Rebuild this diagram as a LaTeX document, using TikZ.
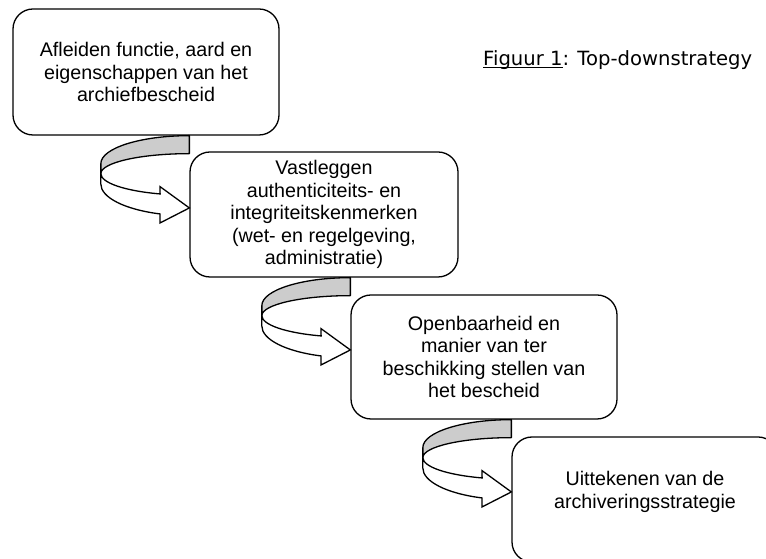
\documentclass[tikz,border=0pt]{standalone}
\usepackage{fontspec}
\setmainfont{Liberation Sans}
\newfontfamily\capfont{DejaVu Sans}
\usepackage{tikz}
\usetikzlibrary{positioning}
\usetikzlibrary{calc}
\newcommand\capline[1]{\setbox0\hbox{#1}\rlap{\rule[-2.6pt]{\wd0}{1.1pt}}\box0}

\begin{document}
\begin{tikzpicture}[x=1pt,y=1pt,
            stepbox/.style={draw,line width=1.3pt,rounded corners=20pt,inner sep=0pt,align=center,
                font=\fontsize{19.7}{22.5}\selectfont},
            backband/.style={draw,line width=1.3pt,fill=gray!40,line join=round},
            frontband/.style={draw,line width=1.3pt,fill=white,line join=miter}]
            \useasboundingbox (0,0) rectangle (766,559);
            \clip (0,0) rectangle (766,559);
            \node[stepbox,minimum width=266pt,minimum height=126pt] (b1) at (146,487)
                {Afleiden functie, aard en\\eigenschappen van het\\archiefbescheid};
            \node[stepbox,minimum width=268pt,minimum height=125pt] (b2) at (324,344.5)
                {Vastleggen\\authenticiteits- en\\integriteitskenmerken\\(wet- en regelgeving,\\administratie)};
            \node[stepbox,minimum width=266pt,minimum height=124pt] (b3) at (484,202)
                {Openbaarheid en\\manier van ter\\beschikking stellen van\\het bescheid};
            \node[stepbox,minimum width=266pt,minimum height=125pt] (b4) at (645,59.5) {};
            \node[align=center,font=\fontsize{19.7}{22.5}\selectfont] (t4) at ([yshift=7.5pt]b4.center)
                {Uittekenen van de\\archiveringsstrategie};
            \node[anchor=base west,inner sep=0pt,font=\capfont\fontsize{19.6}{22}\selectfont] (cap) at (483,493.5)
                {\capline{Figuur 1}: Top-downstrategy};
            % curved arrows between the steps
            \foreach \a/\b in {b1/b2,b2/b3,b3/b4}{
                \begin{scope}[shift={(\b.west |- \a.south)}]
                    \path[backband] (0,0) arc[start angle=90,end angle=180,x radius=88.5,y radius=28]
                        -- (-88.5,-38) arc[start angle=180,end angle=90,x radius=88.5,y radius=20] -- cycle;
                    \path[frontband] (-88.5,-38) arc[start angle=180,end angle=250.7,x radius=88.5,y radius=21.5]
                        -- (-29.3,-51) -- (0,-72.3) -- (-29.3,-87.3) -- (-29.3,-78.3)
                        arc[start angle=250.7,end angle=180,x radius=88.5,y radius=31.8] -- cycle;
                \end{scope}
            }
        \end{tikzpicture}
\end{document}
